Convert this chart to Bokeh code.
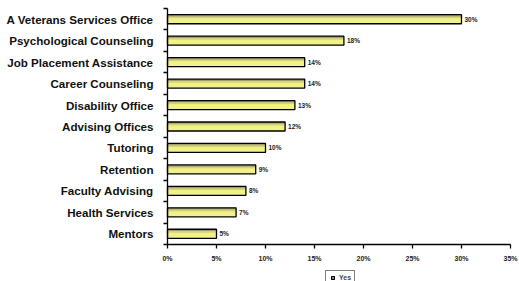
from bokeh.plotting import figure
from bokeh.models import FixedTicker, Legend, LegendItem, Range1d
from bokeh.core.properties import value
from bokeh.embed import file_html
from bokeh.resources import INLINE

categories = ["Mentors", "Health Services", "Faculty Advising", "Retention", "Tutoring",
              "Advising Offices", "Disability Office", "Career Counseling",
              "Job Placement Assistance", "Psychological Counseling", "A Veterans Services Office"]
values = [5, 7, 8, 9, 10, 12, 13, 14, 14, 18, 30]
x_ticks = [0, 5, 10, 15, 20, 25, 30, 35]
series_name = "Yes"

n = len(categories)
ypos = [i + 0.5 for i in range(n)]
labels = [f"{v}%" for v in values]

# frame covers the whole canvas; axes are pinned at x=0 / y=0 inside it
px_per_x = 343 / 35.0
px_per_y = 236 / 11.0
p = figure(width=519, height=281, output_backend="svg", toolbar_location=None,
           x_range=Range1d(-167 / px_per_x, 35 + 9 / px_per_x),
           y_range=Range1d(-37 / px_per_y, n + 8 / px_per_y),
           min_border_left=0, min_border_right=0, min_border_top=0, min_border_bottom=0)
p.outline_line_color = None
p.grid.grid_line_color = None
p.background_fill_color = "white"

bh = 0.42
# gradient-like layers
p.hbar(y=ypos, right=values, left=0, height=bh, fill_color="#f0f096", line_color=None)
p.hbar(y=[y + bh * 0.28 for y in ypos], right=values, left=0, height=bh * 0.44,
       fill_color="#d2d282", line_color=None)
p.hbar(y=[y + bh * 0.40 for y in ypos], right=values, left=0, height=bh * 0.2,
       fill_color="#a0a068", line_color=None)
p.hbar(y=[y - bh * 0.05 for y in ypos], right=values, left=0, height=bh * 0.3,
       fill_color="#f2f27e", line_color=None)
main = p.hbar(y=ypos, right=values, left=0, height=bh, fill_color=None,
              line_color="black", line_width=1.3)
legend_glyph = p.scatter(x=[-100], y=[-100], marker="square", size=7,
                         fill_color="#e6e67a", line_color="black", line_width=1.2)

p.text(x=values, y=ypos, text=labels, x_offset=3, text_align="left", text_baseline="middle",
       text_font_size=value("6.5px"), text_font_style="bold", text_color="#222222",
       text_font=value("Liberation Sans"))

# x axis
p.xaxis.fixed_location = 0
p.xaxis.bounds = (0, 35)
p.xaxis.ticker = FixedTicker(ticks=x_ticks)
p.xaxis.major_label_overrides = {t: f"{t}%" for t in x_ticks}
p.xaxis.major_label_text_font_size = "7px"
p.xaxis.major_label_text_font_style = "bold"
p.xaxis.major_label_text_font = "Liberation Sans"
p.xaxis.major_label_text_color = "#222222"
p.xaxis.major_label_standoff = 6
p.xaxis.major_tick_out = 4
p.xaxis.major_tick_in = 0
p.xaxis.minor_tick_out = 0
p.xaxis.axis_line_width = 1.3
p.xaxis.major_tick_line_width = 1.3

# y axis
p.yaxis.fixed_location = 0
p.yaxis.bounds = (0, n)
p.yaxis.ticker = FixedTicker(ticks=ypos, minor_ticks=list(range(n + 1)))
p.yaxis.major_label_overrides = {y: c for y, c in zip(ypos, categories)}
p.yaxis.major_label_text_font_size = "11.6px"
p.yaxis.major_label_text_font_style = "bold"
p.yaxis.major_label_text_font = "Liberation Sans"
p.yaxis.major_label_text_color = "#111111"
p.yaxis.major_label_standoff = 10
p.yaxis.major_tick_out = 0
p.yaxis.major_tick_in = 0
p.yaxis.minor_tick_out = 4
p.yaxis.minor_tick_in = 0
p.yaxis.minor_tick_line_color = "black"
p.yaxis.minor_tick_line_width = 1.3
p.yaxis.axis_line_width = 1.3

legend = Legend(items=[LegendItem(label=series_name, renderers=[legend_glyph])],
                location=(325, -4), orientation="horizontal",
                label_text_font_size="7px", label_text_font_style="bold",
                label_text_font="Liberation Sans",
                glyph_width=7, glyph_height=7, padding=3, margin=0, spacing=2,
                label_standoff=3, label_height=7, label_width=10,
                border_line_color="black", border_line_width=1)
p.add_layout(legend, "center")

open("out.html", "w").write(file_html(p, INLINE))
